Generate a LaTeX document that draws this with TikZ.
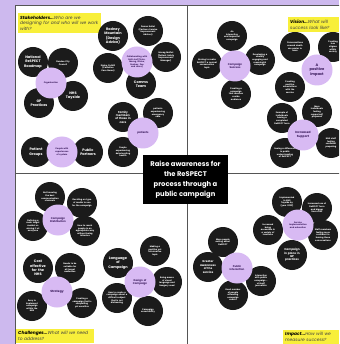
\documentclass[tikz,border=0pt]{standalone}
\usepackage{fontspec}
\setmainfont{Poppins}
\usepackage{xcolor}
\usetikzlibrary{positioning}
\definecolor{lilac}{HTML}{CDB9EE}
\definecolor{hubfill}{HTML}{D8BAF3}
\definecolor{hubtext}{HTML}{3A1B5C}
\definecolor{ink}{HTML}{1B1B1B}
\definecolor{sticky}{HTML}{F8EF3A}
\definecolor{frame}{HTML}{555555}

\begin{document}
\begin{tikzpicture}[
    x=1pt,y=-1pt,
    bubble/.style={circle,fill=ink,text=white,align=center,text width=22pt,minimum size=30pt,inner sep=0pt,font=\fontsize{2.1}{2.6}\selectfont\bfseries},
    bigbubble/.style={bubble,font=\fontsize{3.5}{4.3}\selectfont\bfseries},
    midbubble/.style={bubble,font=\fontsize{2.8}{3.4}\selectfont\bfseries},
    hub/.style={bubble,fill=hubfill,text=hubtext,minimum size=31pt,font=\fontsize{2.6}{3.2}\selectfont\bfseries},
    bighub/.style={hub,font=\fontsize{3.6}{4.4}\selectfont\bfseries},
    note/.style={fill=sticky,anchor=north west,align=left,inner sep=2pt,text=black!75,font=\fontsize{4.4}{5.8}\selectfont\itshape}
]
\clip (0,0) rectangle (339,344);
\fill[lilac] (0,0) rectangle (339,344);
\draw[frame,line width=0.8pt,fill=white] (15,5) rectangle (345,350);
\draw[frame,line width=0.8pt] (187,5) -- (187,350);
\draw[frame,line width=0.8pt] (15,173) -- (345,173);

% stakeholders
\node[note,text width=79pt,minimum height=20pt] (stakelabel) at (18,13) {\textbf{\color{black}Stakeholders...}Who are we\\designing for and who will we work\\with?};
\node[bigbubble] (rodney) at (113,36) {Rodney\\Mountain\\(Design\\Advice)};
\node[bubble] (donna) at (148,31) {Donna Kellet\\(Partners Service\\Improvement\\Advisor)};
\node[bubble] (morag) at (166,57) {Morag Moffat\\(Patient Safety\\Improvement\\Manager)};
\node[bubble] (elaine) at (108,68) {Elaine Cuthill\\(Palliative\\Care Nurse)};
\node[bigbubble] (comms) at (141,84) {Comms\\Team};
\node[hub,font=\fontsize{2.1}{2.6}\selectfont\bfseries] (collab) at (137,62) {Collaborating with\\NHS staff (Alex,\\Morag, Elaine,\\Rodney, Zoe\\and more)};
\node[bigbubble] (roadmap) at (33,62) {National\\ReSPECT\\Roadmap};
\node[bubble] (council) at (63,63) {Dundee City\\Council};
\node[bigbubble] (gp) at (39,103) {GP\\Practices};
\node[bigbubble] (tayside) at (73,96) {NHS\\Tayside};
\node[hub,font=\fontsize{2.1}{2.6}\selectfont\bfseries] (organisation) at (51,83) {Organisation};
\node[midbubble] (family) at (123,117) {Family\\members\\of those in\\care};
\node[bubble] (emergency) at (158,113) {patients\\experiencing\\emergency\\care};
\node[bubble] (deteriorating) at (123,152) {People\\experiencing\\deteriorating\\health};
\node[hub] (patients) at (143,133) {patients};
\node[bigbubble] (groups) at (36,152) {Patient\\Groups};
\node[bigbubble] (partners) at (88,152) {Public\\Partners};
\node[hub,font=\fontsize{2.1}{2.6}\selectfont\bfseries] (experience) at (62,152) {People with\\experiences\\of system};

% vision
\node[note,text width=47pt,minimum height=15pt] (visionlabel) at (288,17) {\textbf{\color{black}Vision...}What will\\success look like?};
\node[bubble] (interactive) at (232,36) {An\\interactive\\and impactful\\campaign};
\node[bubble] (aiming) at (207,64) {Aiming to make\\ReSPECT a normal\\conversation\\topic};
\node[bubble] (visual) at (260,60) {Developing a\\visually\\engaging and\\meaningful\\campaign};
\node[bubble] (widereach) at (236,94) {Creating a campaign\\that reaches\\a wide\\audience};
\node[hub] (success) at (235,66) {Campaign\\Success};
\node[bubble] (conversations) at (295,47) {Conversations\\around death\\are easier to\\have};
\node[bubble] (stigma) at (333,47) {Creating\\less\\stigma\\within\\society};
\node[bubble] (associations) at (290,87) {Creating\\positive\\associations\\with the\\service};
\node[bighub] (impact) at (317,70) {A\\positive\\impact};
\node[bubble] (prepared) at (317,112) {More\\individuals\\feeling\\supported/\\prepared};
\node[bubble] (forms) at (282,118) {Example of\\individuals\\having a\\completed\\ReSPECT form};
\node[bubble] (confident) at (331,143) {NHS staff\\feeling\\confident\\preparing};
\node[bubble] (difference) at (285,153) {Seeing a difference\\in public\\understanding\\of ReSPECT};
\node[hub,font=\fontsize{3}{3.7}\selectfont\bfseries] (support) at (303,135) {Increased\\Support};

% challenges
\node[note,text width=74pt,minimum height=14pt] (challengelabel) at (16,329) {\textbf{\color{black}Challenges...}What will we need\\to address?};
\node[bubble] (channels) at (50,197) {Not knowing\\the best\\communication\\channels};
\node[bubble] (media) at (82,203) {Deciding on type\\of media to use\\for the campaign};
\node[bubble] (target) at (33,226) {Defining a\\main target\\market vs\\aiming it at\\everyone};
\node[bubble] (reachpeople) at (85,231) {How to reach\\people in an\\appropriate way\\without being\\intrusive};
\node[hub] (distribution) at (58,220) {Campaign\\Distribution};
\node[bigbubble] (cost) at (38,268) {Cost\\effective\\for the\\NHS};
\node[bubble] (suitable) at (70,268) {Needs to be\\suitable for\\all target\\audiences};
\node[bubble] (easy) at (32,306) {Easy to\\implement\\campaign\\within the\\NHS};
\node[bubble] (compelling) at (82,303) {Creating a\\campaign that is\\compelling\\yet sensitive};
\node[hub,font=\fontsize{3}{3.7}\selectfont\bfseries] (strategy) at (57,292) {Strategy};
\node[bigbubble] (language) at (118,263) {Language\\of\\Campaign};
\node[bubble] (informative) at (155,251) {Making a\\positive yet\\informative\\topic};
\node[bubble] (imagery) at (167,282) {Being aware\\of visual\\language and\\imagery used};
\node[bubble] (difficult) at (117,298) {How to create a\\campaign about a\\difficult subject\\that is not\\distressing};
\node[bubble] (accessibility) at (148,311) {Campaign\\accessibility};
\node[hub] (design) at (140,282) {Design of\\Campaign};

% impact
\node[note,text width=52pt,minimum height=14pt] (impactlabel) at (283,330) {\textbf{\color{black}Impact...}How will we\\measure success?};
\node[bubble] (asking) at (223,242) {More people\\asking about\\ReSPECT};
\node[midbubble] (awareness) at (208,267) {Greater\\awareness\\of the\\service};
\node[bubble] (virtual) at (261,281) {Interaction\\with public\\campaign -\\virtual/\\journalism};
\node[bubble] (events) at (233,295) {Good number\\of people\\attending\\campaign\\events};
\node[hub] (interaction) at (237,268) {Public\\Interaction};
\node[bubble] (implemented) at (287,202) {Implemented\\in NHS\\Tayside by\\(year 2023)};
\node[bubble] (uptake) at (317,208) {Increased use of\\ReSPECT form\\and bigger\\from staff};
\node[bubble] (locations) at (268,230) {Increased\\being\\accessible in\\a variety of\\locations};
\node[bubble] (staffconf) at (323,235) {Staff members\\feeling more\\confident in\\having these\\conversations};
\node[midbubble] (gpplace) at (292,255) {Campaign\\in place in\\GP\\practices};
\node[hub,font=\fontsize{2.1}{2.6}\selectfont\bfseries] (service) at (298,225) {Service\\implementation\\and education};

% centre
\node[fill=black,text=white,align=center,minimum width=85pt,minimum height=49pt,inner sep=2pt,font=\fontsize{6.8}{10}\selectfont\bfseries] (aim) at (185.5,179.5) {Raise awareness for\\the ReSPECT\\process through a\\public campaign};
\end{tikzpicture}
\end{document}
